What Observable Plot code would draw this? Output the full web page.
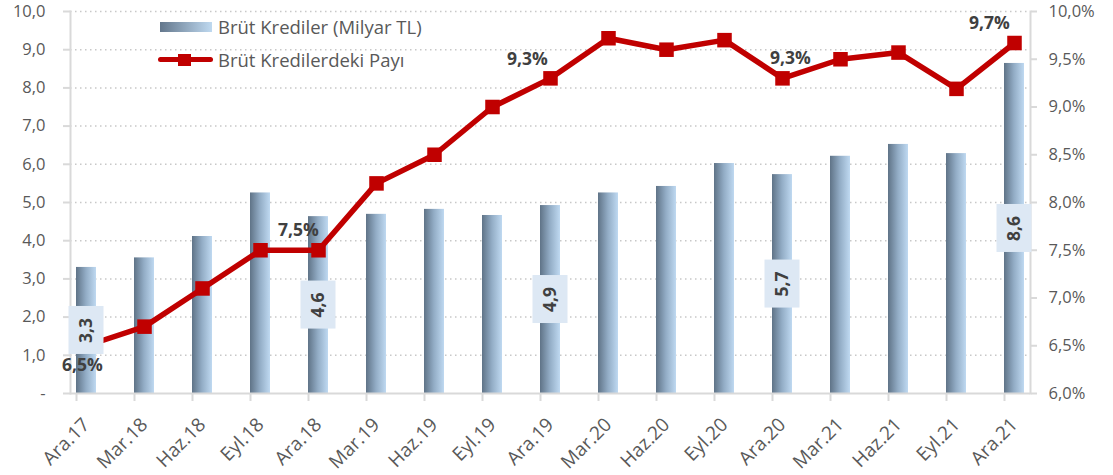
<!DOCTYPE html>
<html>
<head>
<meta charset="utf-8">
<script src="https://cdn.jsdelivr.net/npm/d3@7"></script>
<script src="https://cdn.jsdelivr.net/npm/@observablehq/plot@0.6"></script>
<style>
  body { margin: 0; background: #fff; font-family: "Open Sans", Lato, sans-serif; }
  #wrap { position: relative; width: 1113px; height: 475px; }
  .lg { position: absolute; display: flex; align-items: center; font-size: 18.5px; color: #595959; white-space: nowrap; }
  .sw-bar { width: 52px; height: 10px; background: linear-gradient(to right, #63778c, #bfd9f0); margin-right: 6px; }
  .sw-line { position: relative; width: 55px; height: 14px; margin-right: 5px; }
  .sw-line::before { content: ""; position: absolute; left: 0; right: 0; top: 4.5px; height: 5px; border-radius: 3px; background: #c00000; }
  .sw-line::after { content: ""; position: absolute; left: 20px; top: 1px; width: 13px; height: 12px; background: #c00000; }
</style>
</head>
<body>
<div id="wrap">
  <div class="lg" style="left:160px; top:14px;"><div class="sw-bar"></div><span>Brüt Krediler (Milyar TL)</span></div>
  <div class="lg" style="left:158px; top:47px;"><div class="sw-line"></div><span>Brüt Kredilerdeki Payı</span></div>
</div>
<script>
const categories = ["Ara.17","Mar.18","Haz.18","Eyl.18","Ara.18","Mar.19","Haz.19","Eyl.19","Ara.19","Mar.20","Haz.20","Eyl.20","Ara.20","Mar.21","Haz.21","Eyl.21","Ara.21"];
const credits = [3.3, 3.55, 4.11, 5.25, 4.63, 4.69, 4.82, 4.66, 4.92, 5.25, 5.42, 6.02, 5.73, 6.21, 6.52, 6.28, 8.64];
const share = [6.5, 6.7, 7.1, 7.5, 7.5, 8.2, 8.5, 9.0, 9.3, 9.72, 9.6, 9.7, 9.3, 9.5, 9.57, 9.19, 9.67];
const leftTicks = [0, 1, 2, 3, 4, 5, 6, 7, 8, 9, 10];
const gridTicks = [1, 2, 3, 4, 5, 6, 7, 8, 9, 10];
const rightTicks = [6.0, 6.5, 7.0, 7.5, 8.0, 8.5, 9.0, 9.5, 10.0];
const barLabelCats = ["Ara.17", "Ara.18", "Ara.19", "Ara.20", "Ara.21"];

const rightMin = 6, rightMax = 10, leftMax = 10;
const toLeft = p => (p - rightMin) / (rightMax - rightMin) * leftMax;
const fromLeft = v => v / leftMax * (rightMax - rightMin) + rightMin;
const comma = (v, d) => v.toFixed(d).replace(".", ",");
const trunc1 = v => comma(Math.floor(v * 10 + 1e-9) / 10, 1);

const data = categories.map((c, i) => ({cat: c, credit: credits[i], share: share[i], shareY: toLeft(share[i])}));
const labeled = data.filter(d => barLabelCats.includes(d.cat));

const defs = () => {
  const g = document.createElementNS("http://www.w3.org/2000/svg", "defs");
  g.innerHTML = `<linearGradient id="barGrad" x1="0" x2="1" y1="0" y2="0">
    <stop offset="0" stop-color="#5f7387"/>
    <stop offset="0.5" stop-color="#93adc6"/>
    <stop offset="1" stop-color="#bfd9f1"/>
  </linearGradient>`;
  return g;
};

const pctLabel = (cat, dx, dy) => Plot.text(data.filter(d => d.cat === cat), {
  x: "cat", y: "shareY", text: d => comma(d.share, 1) + "%",
  dx, dy, fill: "#404040", fontWeight: "bold", fontSize: 17.5
});

const chart = Plot.plot({
  width: 1113,
  height: 475,
  marginLeft: 70,
  marginRight: 83,
  marginTop: 11,
  marginBottom: 82,
  style: {fontFamily: "'Open Sans', Lato, sans-serif", fontSize: "16.5px", color: "#595959", background: "#fff"},
  x: {domain: categories, paddingInner: 0.66, paddingOuter: 0, label: null},
  y: {domain: [0, leftMax], label: null},
  marks: [
    defs,
    Plot.gridY(gridTicks, {stroke: "#c8c8c8", strokeOpacity: 1, strokeWidth: 1.5, strokeDasharray: "1.5,3.5"}),
    Plot.frame({anchor: "left", stroke: "#d9d9d9", strokeWidth: 2}),
    Plot.frame({anchor: "right", stroke: "#d9d9d9", strokeWidth: 2}),
    Plot.axisY({anchor: "left", ticks: leftTicks, tickSize: 7, tickPadding: 18, stroke: "#d9d9d9", strokeWidth: 2,
      tickFormat: d => d === 0 ? "-" : comma(d, 1), label: null}),
    Plot.axisY({anchor: "right", ticks: rightTicks.map(toLeft), tickSize: 6, tickPadding: 12, stroke: "#d9d9d9", strokeWidth: 2,
      tickFormat: v => comma(fromLeft(v), 1) + "%", label: null}),
    Plot.barY(data, {x: "cat", y: "credit", fill: "url(#barGrad)"}),
    Plot.ruleY([0], {stroke: "#d9d9d9", strokeWidth: 2}),
    Plot.ruleX(categories, {x: d => d, y1: 0, y2: 0, insetBottom: -8, dx: -10, stroke: "#d9d9d9", strokeWidth: 2}),
    Plot.axisX({tickRotate: -45, tickSize: 0, tickPadding: 28, fontSize: 19, label: null}),
    Plot.line(data, {x: "cat", y: "shareY", stroke: "#c00000", strokeWidth: 5.5, strokeLinejoin: "round"}),
    Plot.dot(data, {x: "cat", y: "shareY", symbol: "square", r: 8.2, fill: "#c00000", stroke: "none"}),
    Plot.barY(labeled, {x: "cat", y1: d => d.credit / 2, y2: d => d.credit / 2,
      insetTop: -24, insetBottom: -24, insetLeft: -7.5, insetRight: -7.5, fill: "#dde8f4"}),
    Plot.text(labeled, {x: "cat", y: d => d.credit / 2, text: d => trunc1(d.credit),
      rotate: -90, fill: "#404040", fontWeight: "bold", fontSize: 17.5}),
    pctLabel("Ara.17", -4, 20),
    pctLabel("Ara.18", -20, -20),
    pctLabel("Ara.19", -23, -19),
    pctLabel("Ara.20", 8, -20),
    pctLabel("Ara.21", -25, -20)
  ]
});
document.getElementById("wrap").prepend(chart);
chart.style.position = "absolute";
chart.style.left = "0";
chart.style.top = "0";
</script>
</body>
</html>
